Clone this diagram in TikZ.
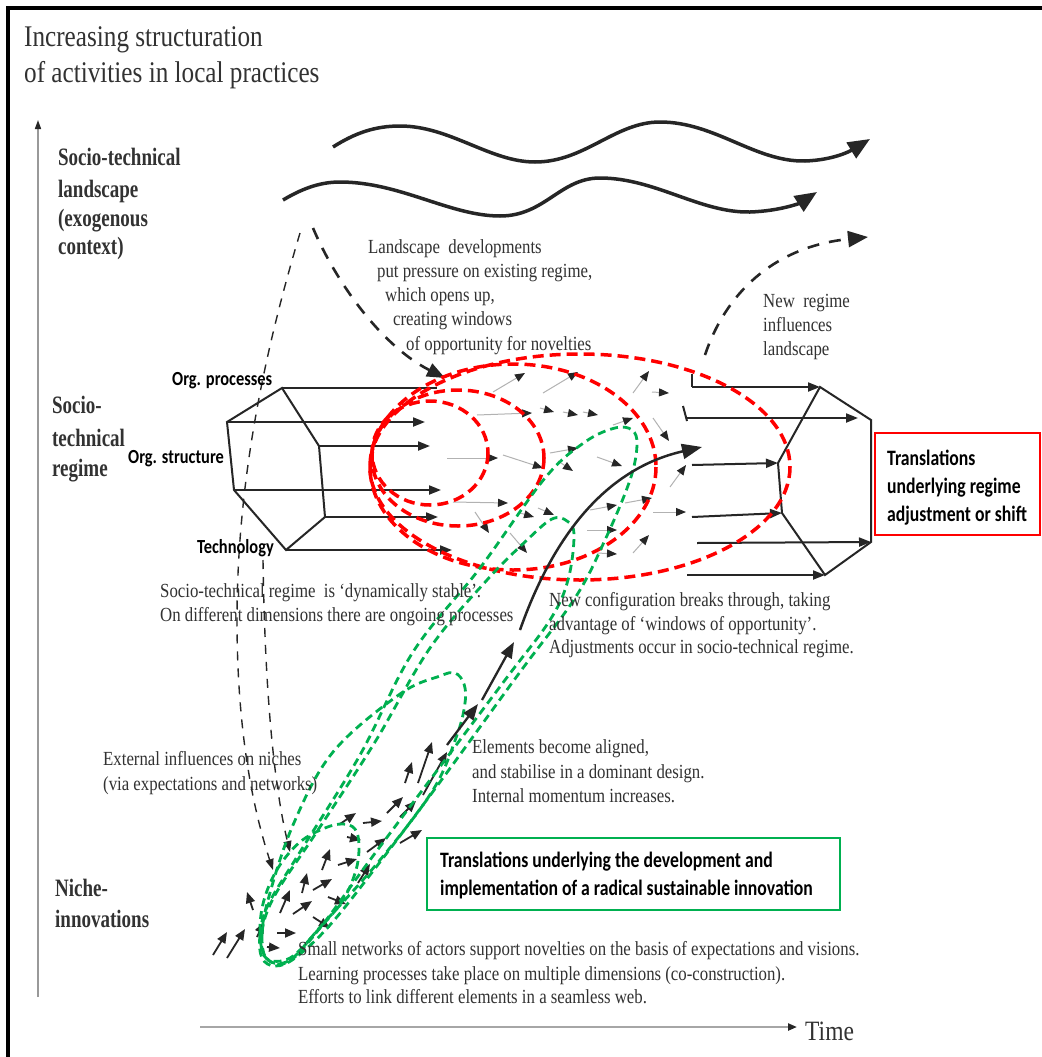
\documentclass[tikz,border=0pt]{standalone}
\usepackage{fontspec}
\setmainfont{Liberation Serif}
\newfontfamily\calibri{Carlito}
\usetikzlibrary{arrows.meta}
\definecolor{ink}{RGB}{38,38,38}
\definecolor{txtgray}{RGB}{50,50,50}
\definecolor{rred}{RGB}{255,0,0}
\definecolor{ggreen}{RGB}{0,176,80}
\begin{document}
\begin{tikzpicture}[x=1pt,y=-1pt,
  annot/.style={font=\fontsize{20}{24}\selectfont, text=txtgray, inner sep=0pt, anchor=base west, xscale=0.84, transform shape},
  headline/.style={annot, font=\fontsize{30}{34}\selectfont},
  levellabel/.style={annot, font=\bfseries\fontsize{25}{29}\selectfont, xscale=0.905},
  calib/.style={font=\calibri\bfseries\fontsize{20}{24}\selectfont, inner sep=0pt, anchor=base west, xscale=0.82, transform shape},
  boxtext/.style={calib, font=\calibri\bfseries\fontsize{22}{26}\selectfont, xscale=0.98},
  regimeline/.style={draw=ink, line width=2pt},
  regimearrow/.style={draw=ink, line width=2pt, -{Triangle[length=12pt,width=9pt]}},
  smallarrow/.style={draw=gray!60, line width=1pt, -{Triangle[length=10pt,width=8pt,color=ink]}},
  nichearrow/.style={draw=ink, line width=1.8pt, -{Triangle[length=11pt,width=9pt]}},
  patharrow/.style={draw=ink, line width=2.3pt, -{Triangle[length=16pt,width=12pt]}},
  landwave/.style={draw=ink, line width=3.5pt, -{Triangle[length=22pt,width=18pt]}},
  bigdash/.style={draw=ink, line width=2.6pt, dash pattern=on 12pt off 10pt},
  thindash/.style={draw=ink, line width=1.4pt, dash pattern=on 9pt off 8pt},
  redring/.style={draw=rred, line width=3.5pt, dash pattern=on 11pt off 6pt},
  greenring/.style={draw=ggreen, line width=2.8pt, dash pattern=on 8pt off 5pt},
  framebox/.style={line width=2pt, inner sep=0pt},
]
\useasboundingbox (0,0) rectangle (1041,1057);
\fill[white] (0,0) rectangle (1041,1057);

% outer frame (left and top edges)
\draw[line width=4pt] (8,1062) -- (8,8) -- (1045,8);

% heading
\node[headline] (head1) at (24,47) {Increasing structuration};
\node[headline] (head2) at (24,82) {of activities in local practices};

% axes
\coordinate (ybot) at (38,997);
\coordinate (ytop) at (38,120);
\draw[draw=gray!80, line width=1.6pt, -{Triangle[length=9pt,width=6pt,color=ink]}] (ybot) -- (ytop);
\coordinate (xleft) at (200,1027);
\coordinate (xright) at (797,1027);
\draw[draw=gray!70, line width=2.2pt, -{Triangle[length=9pt,width=7pt,color=ink]}] (xleft) -- (xright);
\node[annot, font=\fontsize{28}{32}\selectfont] (time) at (805,1040) {Time};

% level labels
\node[levellabel] (land1) at (58,165) {Socio-technical};
\node[levellabel] (land2) at (58,197) {landscape};
\node[levellabel] (land3) at (58,226) {(exogenous};
\node[levellabel] (land4) at (58,254) {context)};
\node[levellabel] (reg1) at (52,413) {Socio-};
\node[levellabel] (reg2) at (52,446) {technical};
\node[levellabel] (reg3) at (52,476) {regime};
\node[levellabel] (nic1) at (55,896) {Niche-};
\node[levellabel] (nic2) at (55,927) {innovations};

% landscape developments
\coordinate (w1s) at (333,147);
\coordinate (w1e) at (870,139);
\draw[landwave] (w1s) .. controls (355,133) and (375,126) .. (400,126)
  .. controls (450,126) and (490,162) .. (535,162)
  .. controls (585,162) and (615,122) .. (660,122)
  .. controls (715,122) and (755,162) .. (805,161)
  .. controls (835,160) and (852,150) .. (w1e);
\coordinate (w2s) at (283,200);
\coordinate (w2e) at (817,192);
\draw[landwave] (w2s) .. controls (300,190) and (318,182) .. (340,182)
  .. controls (400,182) and (450,216) .. (500,216)
  .. controls (545,216) and (560,178) .. (600,178)
  .. controls (655,178) and (700,213) .. (750,212)
  .. controls (780,211) and (800,203) .. (w2e);

% landscape pressure and feedback
\coordinate (press0) at (313,228);
\coordinate (press1) at (445,378);
\draw[bigdash, -{Triangle[length=18pt,width=14pt]}] (press0) .. controls (335,280) and (380,345) .. (press1);
\coordinate (fb0) at (705,355);
\coordinate (fb1) at (868,237);
\draw[bigdash, -{Triangle[length=20pt,width=16pt]}] (fb0) .. controls (725,295) and (772,247) .. (fb1);

% external influences on niches
\coordinate (ext0) at (300,233);
\coordinate (ext1) at (273,870);
\coordinate (ext2) at (263,560);
\coordinate (ext3) at (290,852);
\draw[thindash, -{Triangle[length=11pt,width=8pt]}] (ext0) .. controls (265,350) and (237,480) .. (237,620)
  .. controls (237,720) and (250,800) .. (ext1);
\draw[thindash, -{Triangle[length=11pt,width=8pt]}] (ext2) .. controls (265,700) and (275,790) .. (ext3);

% current regime (left prism)
\coordinate (A) at (282,388);
\coordinate (B) at (227,422);
\coordinate (C) at (234,490);
\coordinate (D) at (286,550);
\coordinate (E) at (325,517);
\coordinate (F) at (319,446);
\draw[regimeline] (A) -- (B) -- (C) -- (D) -- (E) -- (F) -- cycle;
\coordinate (a1) at (437,388);
\coordinate (b1) at (425,422);
\coordinate (f1) at (430,446);
\coordinate (c1) at (441,490);
\coordinate (e1) at (438,517);
\coordinate (d1) at (452,550);
\draw[regimeline] (A) -- (a1);
\draw[regimearrow] (B) -- (b1);
\draw[regimearrow] (F) -- (f1);
\draw[regimearrow] (C) -- (c1);
\draw[regimearrow] (E) -- (e1);
\draw[regimearrow] (D) -- (d1);

% new regime (right prism)
\coordinate (G) at (820,387);
\coordinate (H) at (871,420);
\coordinate (I) at (871,542);
\coordinate (J) at (825,575);
\coordinate (K) at (782,513);
\coordinate (L) at (778,463);
\draw[regimeline] (G) -- (H) -- (I) -- (J) -- (K) -- (L) -- cycle;
\coordinate (g0) at (692,387);
\coordinate (h0) at (687,418);
\coordinate (h1) at (858,418);
\coordinate (l0) at (692,465);
\coordinate (k0) at (692,517);
\coordinate (i0) at (697,543);
\coordinate (j0) at (687,575);
\draw[regimeline] (692,374) -- (g0);
\draw[regimeline] (683,406) -- (687,421);
\draw[regimearrow] (g0) -- (G);
\draw[regimearrow] (h0) -- (h1);
\draw[regimearrow] (l0) -- (L);
\draw[regimearrow] (k0) -- (K);
\draw[regimearrow] (i0) -- (I);
\draw[regimearrow] (j0) -- (J);

% turbulence inside the regime
\foreach \sx/\sy/\ex/\ey in {
  493/392/525/373, 543/393/578/372, 633/393/649/371, 652/392/669/393,
  477/415/532/413, 540/408/554/412, 563/412/578/415, 583/412/598/415,
  613/425/633/418, 653/418/669/441, 447/458/498/458, 503/455/543/468,
  550/453/578/448, 558/461/573/471, 597/457/622/466, 670/487/686/465,
  453/502/508/503, 475/512/489/533, 520/513/534/517, 538/508/554/515,
  590/510/617/505, 625/503/652/498, 653/512/686/512, 510/533/527/553,
  587/530/617/530, 597/553/617/554, 633/553/649/535}
  \draw[smallarrow] (\sx,\sy) -- (\ex,\ey);

% niche activity
\foreach \sx/\sy/\ex/\ey in {
  213/955/227/932, 227/958/245/929, 253/910/247/892, 257/937/264/922,
  267/947/280/948, 277/933/296/933, 280/913/290/890, 293/914/312/901,
  302/893/307/873, 313/890/332/879, 313/917/330/928, 328/897/346/904,
  322/870/330/849, 338/865/357/859, 358/883/370/864, 340/824/356/813,
  347/837/361/840, 363/823/382/821, 367/852/386/838, 387/813/403/797,
  400/817/416/801, 400/843/422/830, 405/783/412/762, 418/783/432/742,
  423/795/447/752}
  \draw[nichearrow] (\sx,\sy) -- (\ex,\ey);

% windows of opportunity
\coordinate (o1) at (430,453);
\coordinate (o2) at (458,458);
\coordinate (o3) at (513,467);
\coordinate (o4) at (580,467);
\draw[redring] (o1) ellipse [x radius=58, y radius=52];
\draw[redring] (o2) ellipse [x radius=86, y radius=68];
\draw[redring] (o3) ellipse [x radius=143, y radius=103];
\draw[redring] (o4) ellipse [x radius=210, y radius=113];

% niche trajectories
\draw[greenring] plot[smooth cycle, tension=0.6] coordinates {
  (262,958) (260,935) (268,905) (300,852) (360,755) (413,652) (480,568) (545,478)
  (585,442) (615,428) (632,430) (637,445) (630,480) (605,540) (575,598) (520,672)
  (440,782) (380,862) (330,925) (295,958) (275,966)};
\draw[greenring] plot[smooth cycle, tension=0.6] coordinates {
  (266,958) (262,932) (275,895) (318,830) (375,742) (430,648) (487,580) (527,540)
  (552,519) (567,521) (574,535) (568,580) (550,620) (505,680) (430,780) (370,860)
  (320,928) (288,962)};
\draw[greenring] plot[smooth cycle, tension=0.6] coordinates {
  (268,960) (262,938) (268,900) (293,825) (333,752) (400,694) (440,676) (455,673)
  (464,684) (465,703) (457,735) (433,790) (380,860) (322,925) (290,960)};
\draw[greenring] plot[smooth cycle, tension=0.6] coordinates {
  (266,958) (260,932) (264,900) (278,868) (300,842) (325,828) (343,824) (355,829)
  (359,845) (356,870) (343,900) (318,930) (290,958)};

% breakthrough path
\coordinate (p0) at (447,745);
\coordinate (p1) at (478,704);
\coordinate (p2) at (482,700);
\coordinate (p3) at (514,642);
\coordinate (p4) at (520,630);
\coordinate (p5) at (702,447);
\draw[patharrow] (p0) -- (p1);
\draw[patharrow] (p2) -- (p3);
\draw[draw=ink, line width=2.5pt, -{Triangle[length=20pt,width=15pt]}] (p4) .. controls (550,545) and (600,470) .. (p5);

% dimension labels
\node[calib] (orgproc) at (172,385) {Org. processes};
\node[calib] (orgstruct) at (128,463) {Org. structure};
\node[calib] (techno) at (197,553) {Technology};

% annotations
\node[annot] (ld1) at (368,253) {Landscape\hspace{5pt} developments};
\node[annot] (ld2) at (377,277) {put pressure on existing regime,};
\node[annot] (ld3) at (385,301) {which opens up,};
\node[annot] (ld4) at (393,325) {creating windows};
\node[annot] (ld5) at (406,350) {of opportunity for novelties};

\node[annot] (nr1) at (763,307) {New\hspace{5pt} regime};
\node[annot] (nr2) at (763,331) {influences};
\node[annot] (nr3) at (763,355) {landscape};

\node[annot] (rs1) at (160,597) {Socio-technical regime\hspace{5pt} is ‘dynamically stable’.};
\node[annot] (rs2) at (160,621) {On different dimensions there are ongoing processes};

\node[annot] (nc1) at (549,606) {New configuration breaks through, taking};
\node[annot] (nc2) at (549,630) {advantage of ‘windows of opportunity’.};
\node[annot] (nc3) at (549,653) {Adjustments occur in socio-technical regime.};

\node[annot] (el1) at (472,753) {Elements become aligned,};
\node[annot] (el2) at (472,778) {and stabilise in a dominant design.};
\node[annot] (el3) at (472,802) {Internal momentum increases.};

\node[annot] (ex1) at (103,765) {External influences on niches};
\node[annot] (ex2) at (103,790) {(via expectations and networks)};

\node[annot] (sn1) at (298,955) {Small networks of actors support novelties on the basis of expectations and visions.};
\node[annot] (sn2) at (298,980) {Learning processes take place on multiple dimensions (co-construction).};
\node[annot] (sn3) at (298,1003) {Efforts to link different elements in a seamless web.};

% translation boxes
\node[framebox, draw=rred, minimum width=165pt, minimum height=102pt] (rbox) at (957.5,484) {};
\node[boxtext] (rt1) at (887,465) {Translations};
\node[boxtext] (rt2) at (887,493) {underlying regime};
\node[boxtext] (rt3) at (887,521) {adjustment or shift};
\node[framebox, draw=ggreen, minimum width=413pt, minimum height=72pt] (gbox) at (633.5,874) {};
\node[boxtext] (gt1) at (440,867) {Translations underlying the development and};
\node[boxtext] (gt2) at (440,895) {implementation of a radical sustainable innovation};
\end{tikzpicture}
\end{document}
